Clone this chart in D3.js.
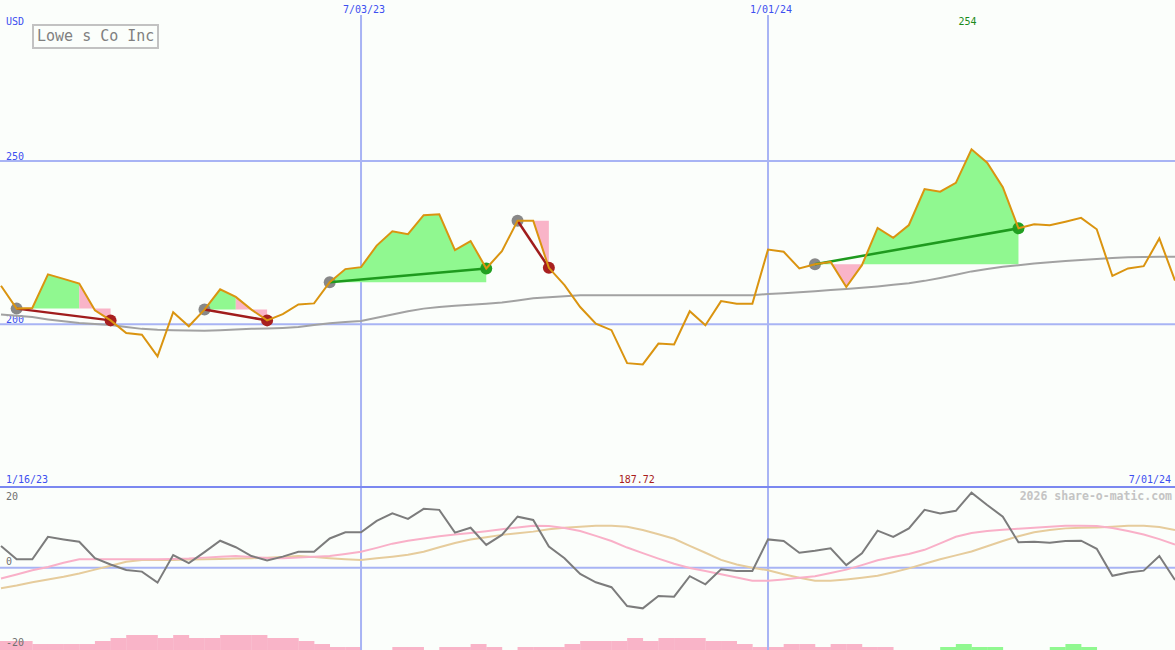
<!DOCTYPE html>
<html><head><meta charset="utf-8">
<script src="https://cdn.jsdelivr.net/npm/d3@7"></script>
<style>html,body{margin:0;padding:0;background:#fbfefb;} svg{display:block;}</style>
</head><body><svg id="c" width="1175" height="650"></svg>
<script>
// ---------- data ----------
const startDate = new Date(2023, 0, 23);
const weekCount = 76;
const dates = d3.range(weekCount).map(i => d3.timeWeek.offset(startDate, i));

const price = [211.8, 204.8, 205.0, 215.3, 213.9, 212.5, 204.3, 201.2, 197.3, 196.8,
  190.2, 203.7, 199.4, 204.5, 210.7, 208.4, 204.5, 201.2, 203.1, 206.1,
  206.4, 212.9, 216.9, 217.5, 224.1, 228.5, 227.6, 233.4, 233.7, 222.7,
  225.5, 217.1, 222.4, 231.7, 231.7, 217.3, 212.0, 205.3, 200.2, 198.2,
  188.1, 187.72, 194.1, 193.8, 204.0, 199.7, 207.1, 206.3, 206.3, 222.9,
  222.2, 217.1, 218.4, 219.1, 211.4, 218.1, 229.5, 226.5, 230.4, 241.4,
  240.6, 243.3, 253.6, 249.5, 242.0, 229.4, 230.6, 230.3, 231.4, 232.6,
  229.1, 214.8, 217.1, 217.8, 226.3, 213.4];

const movingAvg = [203.0, 202.6, 202.2, 201.5, 200.9, 200.4, 200.1, 199.8, 199.2, 198.6,
  198.3, 198.2, 198.1, 198.0, 198.2, 198.4, 198.6, 198.7, 198.9, 199.2,
  199.8, 200.3, 200.7, 201.0, 202.0, 203.0, 204.0, 204.8, 205.3, 205.7,
  206.0, 206.3, 206.7, 207.3, 208.0, 208.3, 208.6, 208.9, 208.9, 208.9,
  208.9, 208.9, 208.9, 208.9, 208.9, 208.9, 208.9, 208.9, 208.9, 209.3,
  209.5, 209.8, 210.1, 210.5, 210.8, 211.2, 211.6, 212.1, 212.6, 213.3,
  214.2, 215.2, 216.2, 216.9, 217.6, 218.1, 218.6, 219.0, 219.4, 219.7,
  220.0, 220.3, 220.5, 220.6, 220.7, 220.7];

const oscMain = [6.7, 2.6, 2.6, 9.5, 8.7, 8.0, 2.9, 1.0, -0.7, -1.2,
  -4.6, 3.9, 1.4, 4.8, 8.3, 6.3, 3.6, 2.2, 3.4, 4.9,
  4.9, 9.0, 10.9, 10.9, 14.4, 16.7, 15.0, 18.1, 17.8, 10.8,
  12.3, 7.0, 10.1, 15.7, 14.7, 6.5, 2.9, -1.9, -4.5, -6.0,
  -11.8, -12.5, -8.7, -8.9, -2.6, -5.1, -0.5, -1.0, -1.0, 8.7,
  8.2, 4.6, 5.2, 6.0, 0.8, 4.4, 11.4, 9.5, 12.1, 17.8,
  16.7, 17.5, 23.1, 19.3, 15.7, 7.8, 8.0, 7.7, 8.2, 8.3,
  5.8, -2.5, -1.5, -0.9, 3.6, -3.8];

const oscPink = [-3.3, -2.1, -0.8, 0.2, 1.5, 2.6, 2.6, 2.6, 2.6, 2.6,
  2.6, 2.7, 2.8, 3.1, 3.4, 3.6, 3.3, 3.0, 2.9, 3.1,
  3.4, 3.6, 4.2, 4.9, 6.1, 7.4, 8.3, 9.0, 9.7, 10.2,
  10.7, 11.2, 11.8, 12.4, 12.9, 12.8, 12.2, 11.3, 9.8, 8.2,
  6.2, 4.5, 2.8, 1.2, -0.1, -1.0, -2.0, -3.0, -4.0, -4.0,
  -3.6, -3.1, -2.6, -1.6, -0.6, 0.8, 2.3, 3.3, 4.2, 5.5,
  7.5, 9.5, 10.7, 11.3, 11.7, 12.0, 12.3, 12.6, 12.9, 12.9,
  12.8, 12.2, 11.3, 10.2, 8.8, 7.1];

const oscTan = [-6.3, -5.5, -4.5, -3.6, -2.8, -1.8, -0.6, 0.6, 1.8, 2.4,
  2.4, 2.4, 2.5, 2.6, 2.7, 2.8, 2.9, 3.1, 3.3, 3.6,
  3.3, 2.9, 2.6, 2.4, 2.9, 3.4, 4.0, 4.9, 6.3, 7.6,
  8.7, 9.4, 10.1, 10.6, 11.1, 11.8, 12.3, 12.6, 12.9, 12.9,
  12.6, 11.6, 10.3, 8.9, 6.7, 4.6, 2.4, 1.0, 0.0, -0.8,
  -2.0, -3.1, -4.0, -4.0, -3.6, -3.1, -2.5, -1.4, -0.2, 1.2,
  2.6, 3.8, 5.0, 6.6, 8.2, 9.7, 10.9, 11.6, 12.1, 12.3,
  12.4, 12.6, 12.9, 12.9, 12.5, 11.6];

// weekly bars (segment i spans week i..i+1); negative = pink, positive = green
const weekBars = [-3, -3, -2, -2, -2, -2, -3, -4, -5, -5,
  -4, -5, -4, -4, -5, -5, -5, -4, -4, -3,
  -2, -1, -1, 0, 0, -1, -1, 0, -1, -1,
  -2, -1, 0, -1, -1, -1, -2, -3, -3, -3,
  -4, -3, -4, -4, -4, -3, -3, -2, -1, -1,
  -2, -2, -1, -2, -2, -1, -1, 0, 0, 0,
  1, 2, 1, 1, 0, 0, 0, 1, 2, 1,
  0, 0, 0, 0, 0];

// trades (week indexes)
const tradeStart = [1, 13, 21, 33, 52];
const tradeEnd = [7, 17, 31, 35, 65];
const tradeWin = [false, false, true, false, true];
// fills within trades
const fillTrade = [0, 0, 1, 1, 2, 3, 4, 4, 4];
const fillFrom = [1, 5, 13, 15, 21, 33, 52, 53, 55];
const fillTo = [5, 7, 15, 17, 31, 35, 53, 55, 65];
const fillGain = [true, false, true, false, true, false, true, false, true];

const priceTicks = [200, 250];
const oscTicks = [20, 0, -20];
const gridDates = [new Date(2023, 6, 3), new Date(2024, 0, 1)];
const gridLabels = ["7/03/23", "1/01/24"];
const title = "Lowe s Co Inc";
const unitLabel = "USD";
const maxLabel = "254";
const minLabel = "187.72";
const firstLabel = "1/16/23";
const lastLabel = "7/01/24";
const credit = "2026 share-o-matic.com";

// ---------- drawing ----------
const W = 1175, H = 650;
const svg = d3.select("#c");
const mono = "'DejaVu Sans Mono', monospace";
const blue = "#3d4ff0";

svg.append("rect").attr("width", W).attr("height", H).attr("fill", "#fbfefb");

const x = d3.scaleTime().domain([dates[0], dates[weekCount - 1]]).range([1, 1175]);
const y = d3.scaleLinear().domain([200, 250]).range([324.3, 161]);
const yo = d3.scaleLinear().domain([-20, 20]).range([632.7, 502.7]);
const yb = d3.scaleLinear().domain([0, 5]).range([650, 635]);

// bars
const barIdx = d3.range(weekBars.length).filter(i => weekBars[i] !== 0);
svg.append("g").selectAll("rect").data(barIdx).join("rect")
  .attr("x", i => i === 0 ? 0 : x(dates[i]))
  .attr("width", i => x(dates[i + 1]) - (i === 0 ? 0 : x(dates[i])) + 0.3)
  .attr("y", i => yb(Math.abs(weekBars[i])))
  .attr("height", i => yb(0) - yb(Math.abs(weekBars[i])))
  .attr("fill", i => weekBars[i] < 0 ? "#f9b4c8" : "#90f890");

// grid lines
const gridCol = "#a8b4f4";
svg.append("g").selectAll("line").data(priceTicks).join("line")
  .attr("x1", 0).attr("x2", W).attr("y1", d => y(d)).attr("y2", d => y(d))
  .attr("stroke", gridCol).attr("stroke-width", 2);
svg.append("line").attr("x1", 0).attr("x2", W).attr("y1", yo(0)).attr("y2", yo(0))
  .attr("stroke", gridCol).attr("stroke-width", 2);
svg.append("g").selectAll("line").data(gridDates).join("line")
  .attr("x1", d => x(d)).attr("x2", d => x(d)).attr("y1", 15).attr("y2", H)
  .attr("stroke", gridCol).attr("stroke-width", 2);
svg.append("line").attr("x1", 0).attr("x2", W).attr("y1", 487).attr("y2", 487)
  .attr("stroke", "#7b88f0").attr("stroke-width", 2);

// labels
const txt = (t, xx, yy, opts = {}) => svg.append("text").text(t)
  .attr("x", xx).attr("y", yy)
  .attr("font-family", mono).attr("font-size", opts.size || 10)
  .attr("font-weight", opts.weight || "normal")
  .attr("fill", opts.fill || blue).attr("text-anchor", opts.anchor || "start");

txt(unitLabel, 6, 25);
priceTicks.forEach(v => txt(String(v), 6, y(v) - 1.5));
gridDates.forEach((d, k) => txt(gridLabels[k], x(d) + 3, 13, {anchor: "middle"}));
const iMax = d3.maxIndex(price), iMin = d3.minIndex(price);
txt(maxLabel, x(dates[iMax]) - 4, 25, {anchor: "middle", fill: "#1a8a1a"});
txt(minLabel, x(dates[iMin]) - 6, 483, {anchor: "middle", fill: "#a81c1c"});
txt(firstLabel, 6, 483);
txt(lastLabel, 1171, 483, {anchor: "end"});
txt(credit, 1172, 500, {anchor: "end", fill: "#c4c4c4", size: 11.5, weight: "bold"});
oscTicks.forEach(v => txt(String(v), 6, v < 0 ? H - 4 : yo(v) - 3, {fill: "#707070"}));

// title box
svg.append("rect").attr("x", 33).attr("y", 25).attr("width", 125).attr("height", 23)
  .attr("fill", "#fbfefb").attr("stroke", "#c2c2c2").attr("stroke-width", 2);
txt(title, 37, 41, {fill: "#808080", size: 15});

// oscillator lines
const oscLine = arr => d3.line().x((d, i) => x(dates[i])).y(d => yo(d))(arr);
svg.append("path").attr("d", oscLine(oscTan)).attr("fill", "none").attr("stroke", "#e6cc9c").attr("stroke-width", 2);
svg.append("path").attr("d", oscLine(oscPink)).attr("fill", "none").attr("stroke", "#f9b0c8").attr("stroke-width", 2);
svg.append("path").attr("d", oscLine(oscMain)).attr("fill", "none").attr("stroke", "#7c7c7c").attr("stroke-width", 2);

// trade fills
fillTrade.forEach((t, k) => {
  const base = price[tradeStart[t]];
  const idx = d3.range(fillFrom[k], fillTo[k] + 1);
  const area = d3.area().x(i => x(dates[i])).y0(y(base)).y1(i => y(price[i]));
  svg.append("path").attr("d", area(idx))
    .attr("fill", fillGain[k] ? "#90f890" : "#f9b4c8");
});

// moving average
svg.append("path").attr("d", d3.line().x((d, i) => x(dates[i])).y(d => y(d))(movingAvg))
  .attr("fill", "none").attr("stroke", "#a2a2a2").attr("stroke-width", 2);

// trade markers
tradeStart.forEach((s, t) => {
  const e = tradeEnd[t];
  svg.append("circle").attr("cx", x(dates[s])).attr("cy", y(price[s])).attr("r", 6).attr("fill", "#888888");
  svg.append("circle").attr("cx", x(dates[e])).attr("cy", y(price[e])).attr("r", 6)
    .attr("fill", tradeWin[t] ? "#22a022" : "#a82020");
  svg.append("line").attr("x1", x(dates[s])).attr("y1", y(price[s]))
    .attr("x2", x(dates[e])).attr("y2", y(price[e]))
    .attr("stroke", tradeWin[t] ? "#1e9a1e" : "#a01c1c").attr("stroke-width", 2.5);
});

// price line
svg.append("path").attr("d", d3.line().x((d, i) => x(dates[i])).y(d => y(d))(price))
  .attr("fill", "none").attr("stroke", "#da9410").attr("stroke-width", 2);
</script></body></html>
